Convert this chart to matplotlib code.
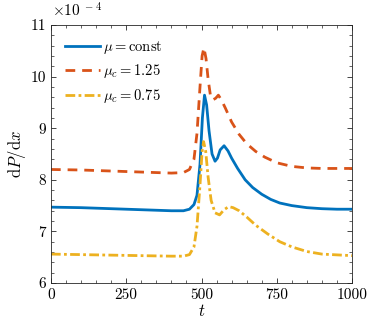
import numpy as np
import matplotlib
matplotlib.use("Agg")
import matplotlib.pyplot as plt
from matplotlib.ticker import MultipleLocator

plt.rcParams['font.family'] = 'serif'
plt.rcParams['font.serif'] = ['cmr10', 'DejaVu Serif']
plt.rcParams['mathtext.fontset'] = 'cm'
plt.rcParams['axes.unicode_minus'] = False

# values (units of 1e-4)
t_const = [0, 100, 200, 300, 400, 440, 460, 475, 485, 495, 503, 510, 517, 525, 535, 545, 553,
           562, 575, 588, 600, 620, 645, 670, 700, 730, 760, 800, 850, 900, 950, 1000]
dp_const = [7.47, 7.46, 7.44, 7.42, 7.40, 7.40, 7.43, 7.52, 7.70, 8.30, 9.20, 9.64, 9.45, 8.95, 8.50, 8.36, 8.42,
            8.58, 8.66, 8.56, 8.42, 8.22, 8.00, 7.85, 7.72, 7.62, 7.55, 7.50, 7.46, 7.44, 7.43, 7.43]

t_125 = [0, 100, 200, 300, 400, 440, 460, 475, 485, 495, 502, 508, 515, 522, 530, 538, 547,
         556, 566, 580, 600, 625, 650, 680, 710, 750, 800, 850, 900, 1000]
dp_125 = [8.20, 8.19, 8.17, 8.15, 8.13, 8.14, 8.20, 8.40, 8.90, 9.80, 10.40, 10.56, 10.35, 9.95, 9.62, 9.55, 9.58,
          9.64, 9.55, 9.38, 9.12, 8.88, 8.70, 8.55, 8.44, 8.33, 8.26, 8.23, 8.22, 8.22]

t_075 = [0, 100, 200, 300, 400, 440, 460, 475, 485, 495, 502, 507, 514, 522, 532, 545, 560,
         575, 590, 605, 625, 650, 680, 720, 760, 800, 850, 900, 1000]
dp_075 = [6.56, 6.55, 6.54, 6.53, 6.52, 6.52, 6.55, 6.70, 7.10, 7.90, 8.55, 8.74, 8.55, 8.05, 7.60, 7.36, 7.32,
          7.42, 7.48, 7.46, 7.40, 7.28, 7.12, 6.95, 6.80, 6.70, 6.61, 6.56, 6.53]

fig = plt.figure(figsize=(3.89, 3.32), dpi=100)
ax = fig.add_axes([0.131, 0.1476, 0.774, 0.7771])

ax.plot(t_const, dp_const, color='#0072BD', lw=2.0, label=r'$\mu = \mathrm{const}$')
ax.plot(t_125, dp_125, color='#D95319', lw=2.0, ls=(0, (3.5, 2.5)), label=r'$\mu_c = 1.25$')
ax.plot(t_075, dp_075, color='#EDB120', lw=2.0, ls=(0, (3.5, 1.2, 1, 1.2)), label=r'$\mu_c = 0.75$')

ax.set_xlim(0, 1000)
ax.set_ylim(6, 11)
ax.xaxis.set_major_locator(MultipleLocator(250))
ax.xaxis.set_minor_locator(MultipleLocator(50))
ax.yaxis.set_major_locator(MultipleLocator(1))
ax.yaxis.set_minor_locator(MultipleLocator(0.2))
ax.tick_params(which='both', direction='in', top=True, right=True, colors='#262626',
               labelsize=11, labelcolor='black')
ax.tick_params(which='major', length=3.5, width=0.6)
ax.tick_params(which='minor', length=2, width=0.5)
for s in ax.spines.values():
    s.set_color('#262626')
    s.set_linewidth(0.6)

ax.set_xlabel(r'$t$', fontsize=12, labelpad=1)
ax.set_ylabel(r'$\mathrm{d}P/\mathrm{d}x$', fontsize=12, labelpad=2)
fig.text(0.134, 0.94, r'$\times 10^{\ -4}$', fontsize=11, ha='left', va='bottom')

ax.legend(loc='upper left', frameon=False, fontsize=10.5, handlelength=2.4,
          handletextpad=0.25, labelspacing=0.45, borderaxespad=0.55)

fig.savefig('out.png', dpi=100)
